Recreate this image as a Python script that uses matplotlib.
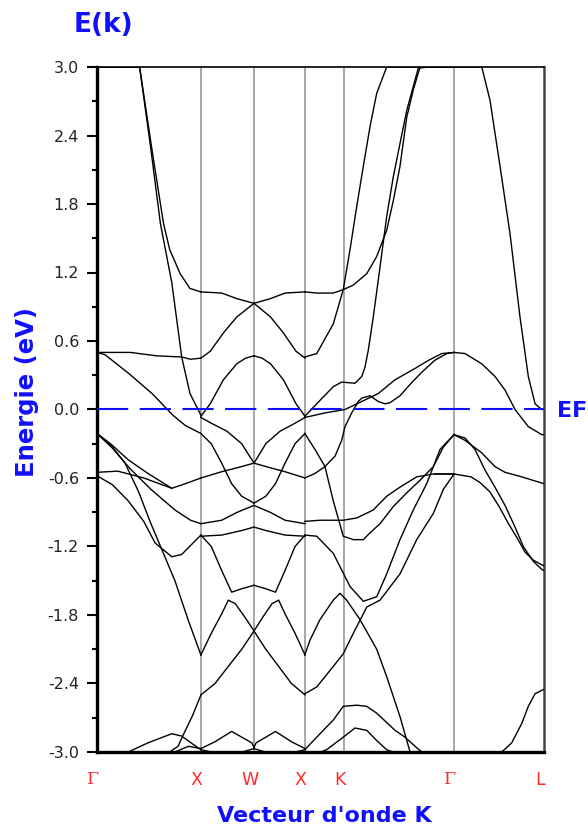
import numpy as np
import matplotlib
matplotlib.use("Agg")
from matplotlib import pyplot as plt
from matplotlib.ticker import AutoMinorLocator

# high symmetry points along the path
sym_k = [0.0, 1.0, 1.511, 2.002, 2.377, 3.436, 4.302]
sym_labels = ['Γ', 'X', 'W', 'X', 'K', 'Γ', 'L']
y_ticks = [-3.0, -2.4, -1.8, -1.2, -0.6, 0.0, 0.6, 1.2, 1.8, 2.4, 3.0]

# ---- Gamma -> X bands (k, E) ----
gx01_k = [0, 0.41, 0.52, 0.61, 0.72, 0.815, 0.895, 1.0]
gx01_e = [3.2, 3.0, 2.27, 1.63, 1.11, 0.46, 0.14, -0.05]
gx02_k = [0, 0.41, 0.53, 0.64, 0.70, 0.80, 0.895, 1.0]
gx02_e = [3.2, 3.0, 2.27, 1.63, 1.40, 1.19, 1.06, 1.03]
gx03_k = [0, 0.32, 0.575, 0.815, 0.90, 1.0]
gx03_e = [0.50, 0.50, 0.47, 0.46, 0.44, 0.45]
gx04_k = [0, 0.077, 0.30, 0.53, 0.73, 0.85, 1.0]
gx04_e = [0.50, 0.48, 0.32, 0.14, -0.05, -0.14, -0.21]
gx05_k = [0, 0.13, 0.30, 0.49, 0.72, 0.85, 1.0]
gx05_e = [-0.21, -0.30, -0.44, -0.56, -0.69, -0.65, -0.60]
gx06_k = [0, 0.15, 0.32, 0.52, 0.75, 0.90, 1.0]
gx06_e = [-0.21, -0.34, -0.52, -0.70, -0.88, -0.97, -1.0]
gx07_k = [0, 0.2, 0.45, 0.72]
gx07_e = [-0.55, -0.54, -0.60, -0.69]
gx08_k = [0, 0.15, 0.30, 0.45, 0.56, 0.72, 0.815, 1.0]
gx08_e = [-0.58, -0.66, -0.80, -0.98, -1.17, -1.29, -1.27, -1.10]
gx09_k = [0, 0.14, 0.27, 0.40, 0.51, 0.63, 0.75, 0.88, 1.0]
gx09_e = [-0.21, -0.32, -0.47, -0.72, -0.98, -1.24, -1.50, -1.85, -2.15]
gx10_k = [0.25, 0.30, 0.49, 0.72, 0.815, 0.92, 1.0]
gx10_e = [-3.1, -3.0, -2.92, -2.84, -2.86, -2.93, -2.98]
gx11_k = [0.70, 0.78, 0.83, 0.92, 1.0]
gx11_e = [-3.1, -2.95, -2.85, -2.68, -2.50]
gx12_k = [0.75, 0.88, 1.0]
gx12_e = [-3.0, -2.95, -2.97]

# ---- X -> W half bands (mirrored onto W -> X) ----
xw01_k = [1.0, 1.2, 1.35, 1.511]
xw01_e = [1.03, 1.02, 0.97, 0.93]
xw02_k = [1.0, 1.09, 1.216, 1.345, 1.511]
xw02_e = [0.45, 0.51, 0.67, 0.81, 0.93]
xw03_k = [1.0, 1.09, 1.216, 1.345, 1.43, 1.511]
xw03_e = [-0.06, 0.05, 0.26, 0.40, 0.45, 0.47]
xw04_k = [1.0, 1.10, 1.25, 1.393, 1.511]
xw04_e = [-0.07, -0.12, -0.19, -0.30, -0.47]
xw05_k = [1.0, 1.10, 1.20, 1.296, 1.393, 1.511]
xw05_e = [-0.21, -0.30, -0.47, -0.65, -0.76, -0.82]
xw06_k = [1.0, 1.20, 1.35, 1.511]
xw06_e = [-0.60, -0.545, -0.51, -0.47]
xw07_k = [1.0, 1.20, 1.35, 1.511]
xw07_e = [-1.0, -0.97, -0.90, -0.84]
xw08_k = [1.0, 1.20, 1.393, 1.511]
xw08_e = [-1.11, -1.10, -1.06, -1.03]
xw09_k = [1.0, 1.10, 1.20, 1.296, 1.393, 1.511]
xw09_e = [-1.10, -1.20, -1.41, -1.60, -1.57, -1.54]
xw10_k = [1.0, 1.10, 1.20, 1.264, 1.33, 1.424, 1.511]
xw10_e = [-2.15, -1.96, -1.79, -1.67, -1.70, -1.82, -1.94]
xw11_k = [1.0, 1.136, 1.264, 1.393, 1.511]
xw11_e = [-2.50, -2.40, -2.25, -2.10, -1.94]
xw12_k = [1.0, 1.136, 1.296, 1.393, 1.49, 1.511]
xw12_e = [-2.97, -2.91, -2.82, -2.87, -2.92, -2.96]
xw13_k = [1.0, 1.1, 1.40, 1.511]
xw13_e = [-2.98, -3.05, -3.05, -2.97]

# ---- X -> K -> Gamma -> L bands ----
xk01_k = [2.0, 2.115, 2.274, 2.37, 2.467, 2.596, 2.692, 2.788, 2.852, 2.916, 2.981, 3.044, 3.109, 3.2, 3.436]
xk01_e = [1.03, 1.02, 1.02, 1.05, 1.09, 1.19, 1.34, 1.57, 1.83, 2.13, 2.56, 2.80, 3.0, 3.3, 3.6]
xk02_k = [2.0, 2.115, 2.274, 2.37, 2.435, 2.50, 2.563, 2.628, 2.692, 2.788, 2.9, 3.436]
xk02_e = [0.46, 0.49, 0.75, 1.05, 1.40, 1.78, 2.13, 2.48, 2.77, 3.0, 3.3, 4.0]
xk03_k = [2.0, 2.146, 2.274, 2.355, 2.483, 2.548, 2.579, 2.611, 2.659, 2.724, 2.788, 2.852, 2.916, 2.981, 3.044, 3.092, 3.2, 3.436]
xk03_e = [-0.06, 0.08, 0.20, 0.24, 0.23, 0.29, 0.37, 0.52, 0.81, 1.25, 1.69, 2.04, 2.33, 2.62, 2.83, 2.99, 3.3, 3.6]
xk04_k = [2.0, 2.194, 2.387, 2.548, 2.707, 2.868, 3.061, 3.189, 3.318, 3.436]
xk04_e = [-0.07, -0.03, 0.0, 0.07, 0.14, 0.26, 0.36, 0.43, 0.49, 0.50]
xk05_k = [2.0, 2.098, 2.194, 2.29, 2.355, 2.387, 2.451, 2.515, 2.548, 2.628, 2.707, 2.772, 2.82, 2.916, 3.013, 3.13, 3.25, 3.366, 3.436]
xk05_e = [-0.60, -0.56, -0.50, -0.41, -0.27, -0.15, -0.03, 0.07, 0.10, 0.12, 0.07, 0.05, 0.06, 0.12, 0.22, 0.33, 0.43, 0.49, 0.50]
xk06_k = [2.0, 2.146, 2.274, 2.37, 2.50, 2.659, 2.788, 2.916, 3.077, 3.237, 3.436]
xk06_e = [-0.98, -0.97, -0.97, -0.97, -0.95, -0.88, -0.76, -0.68, -0.59, -0.565, -0.565]
xk07_k = [2.0, 2.098, 2.194, 2.274, 2.37, 2.467, 2.563, 2.628, 2.724, 2.852, 2.981, 3.109, 3.237, 3.333, 3.436]
xk07_e = [-0.21, -0.35, -0.50, -0.80, -1.11, -1.14, -1.14, -1.08, -1.0, -0.85, -0.73, -0.62, -0.50, -0.33, -0.22]
xk08_k = [2.0, 2.115, 2.274, 2.435, 2.563, 2.692, 2.788, 2.916, 3.044, 3.173, 3.301, 3.436]
xk08_e = [-1.10, -1.11, -1.26, -1.55, -1.68, -1.64, -1.44, -1.14, -0.88, -0.65, -0.35, -0.22]
xk09_k = [2.0, 2.05, 2.146, 2.274, 2.339, 2.403, 2.531, 2.692, 2.788, 2.916, 3.013]
xk09_e = [-2.15, -2.02, -1.84, -1.67, -1.61, -1.67, -1.84, -2.10, -2.34, -2.69, -3.01]
xk10_k = [2.0, 2.115, 2.274, 2.37, 2.467, 2.563, 2.596, 2.724, 2.916, 3.077, 3.237, 3.333, 3.436]
xk10_e = [-2.49, -2.43, -2.25, -2.14, -1.96, -1.79, -1.73, -1.67, -1.44, -1.14, -0.91, -0.70, -0.565]
xk11_k = [2.0, 2.146, 2.274, 2.37, 2.50, 2.596, 2.692, 2.868, 2.964, 3.061, 3.125]
xk11_e = [-2.98, -2.84, -2.72, -2.60, -2.59, -2.60, -2.66, -2.81, -2.87, -2.95, -3.0]
xk12_k = [2.15, 2.21, 2.37, 2.483, 2.596, 2.692, 2.788, 2.85]
xk12_e = [-3.05, -2.98, -2.87, -2.79, -2.81, -2.90, -2.98, -3.05]

gl01_k = [3.436, 3.542, 3.703, 3.83, 3.927, 4.023, 4.151, 4.28, 4.302]
gl01_e = [0.50, 0.49, 0.40, 0.29, 0.17, 0.0, -0.15, -0.22, -0.22]
gl02_k = [3.436, 3.60, 3.703, 3.782, 3.879, 3.975, 4.071, 4.151, 4.216, 4.28, 4.302]
gl02_e = [4.2, 3.4, 3.0, 2.71, 2.13, 1.54, 0.81, 0.29, 0.05, 0.0, 0.0]
gl03_k = [3.436, 3.542, 3.703, 3.83, 3.927, 4.088, 4.302]
gl03_e = [-0.22, -0.27, -0.38, -0.50, -0.55, -0.59, -0.65]
gl04_k = [3.436, 3.542, 3.638, 3.734, 3.83, 3.927, 4.023, 4.103, 4.199, 4.28, 4.302]
gl04_e = [-0.22, -0.25, -0.35, -0.53, -0.68, -0.84, -1.03, -1.20, -1.33, -1.40, -1.41]
gl05_k = [3.25, 3.436, 3.60, 3.686, 3.78, 3.87, 3.96, 4.04, 4.12, 4.20, 4.28, 4.302]
gl05_e = [-0.565, -0.565, -0.59, -0.64, -0.72, -0.85, -1.0, -1.12, -1.25, -1.32, -1.36, -1.37]
gl06_k = [3.879, 3.895, 3.991, 4.088, 4.151, 4.216, 4.28, 4.302]
gl06_e = [-3.05, -3.0, -2.92, -2.75, -2.60, -2.49, -2.46, -2.45]

gx_bands = [(gx01_k, gx01_e), (gx02_k, gx02_e), (gx03_k, gx03_e), (gx04_k, gx04_e),
            (gx05_k, gx05_e), (gx06_k, gx06_e), (gx07_k, gx07_e), (gx08_k, gx08_e),
            (gx09_k, gx09_e), (gx10_k, gx10_e), (gx11_k, gx11_e), (gx12_k, gx12_e)]
xw_bands = [(xw01_k, xw01_e), (xw02_k, xw02_e), (xw03_k, xw03_e), (xw04_k, xw04_e),
            (xw05_k, xw05_e), (xw06_k, xw06_e), (xw07_k, xw07_e), (xw08_k, xw08_e),
            (xw09_k, xw09_e), (xw10_k, xw10_e), (xw11_k, xw11_e), (xw12_k, xw12_e),
            (xw13_k, xw13_e)]
xl_bands = [(xk01_k, xk01_e), (xk02_k, xk02_e), (xk03_k, xk03_e), (xk04_k, xk04_e),
            (xk05_k, xk05_e), (xk06_k, xk06_e), (xk07_k, xk07_e), (xk08_k, xk08_e),
            (xk09_k, xk09_e), (xk10_k, xk10_e), (xk11_k, xk11_e), (xk12_k, xk12_e),
            (gl01_k, gl01_e), (gl02_k, gl02_e), (gl03_k, gl03_e), (gl04_k, gl04_e),
            (gl05_k, gl05_e), (gl06_k, gl06_e)]

BLUE = '#1010ff'
RED = '#ff2a2a'


def mirror_w(k):
    # W -> X is the mirror image of X -> W
    kx1, kw, kx2 = sym_k[1], sym_k[2], sym_k[3]
    k = np.asarray(k)
    return kw + (kw - k) * (kx2 - kw) / (kw - kx1)


def draw_band(ax, k, e):
    e = np.clip(np.asarray(e), -3.0, 3.0)
    ax.plot(k, e, color='black', lw=1.0, solid_joinstyle='round', zorder=3)


def main():
    plt.rcParams['font.family'] = ['DejaVu Sans']
    fig = plt.figure(figsize=(5.88, 8.34), dpi=100)
    ax = fig.add_axes([97 / 588, 1 - 752 / 834, 447 / 588, 685 / 834])

    for k in sym_k[1:-1]:
        ax.axvline(k, color='#a0a0a0', lw=1.3, zorder=1)

    for k, e in gx_bands:
        draw_band(ax, k, e)
    for k, e in xw_bands:
        draw_band(ax, k, e)
        draw_band(ax, mirror_w(k), e)
    for k, e in xl_bands:
        draw_band(ax, k, e)

    ax.axhline(0.0, color=BLUE, lw=1.5, linestyle=(0, (15, 5.5)), zorder=4)

    ax.set_xlim(sym_k[0], sym_k[-1])
    ax.set_ylim(-3.0, 3.0)
    ax.set_xticks([])
    ax.set_yticks(y_ticks)
    ax.set_yticklabels(['%.1f' % v for v in y_ticks], color='#222222', fontsize=11.5)
    ax.yaxis.set_minor_locator(AutoMinorLocator(2))
    ax.tick_params(axis='y', which='major', length=7, width=1.5, pad=6)
    ax.tick_params(axis='y', which='minor', length=3.5, width=1.5)

    ax.spines['left'].set_linewidth(2.4)
    ax.spines['bottom'].set_linewidth(2.4)
    ax.spines['top'].set_linewidth(1.2)
    ax.spines['right'].set_linewidth(1.8)
    ax.spines['right'].set_color('#444444')

    for k, lab in zip(sym_k, sym_labels):
        fam = 'DejaVu Serif' if lab == 'Γ' else 'DejaVu Sans'
        ax.annotate(lab, xy=(k, 0), xycoords=('data', 'axes fraction'),
                    xytext=(-3, -20), textcoords='offset points',
                    ha='center', va='center', color=RED, fontsize=12.5,
                    family=fam)

    fig.text(103 / 588, 1 - 25 / 834, 'E(k)', color=BLUE, fontsize=19,
             fontweight='bold', ha='center', va='center')
    fig.text(27 / 588, 1 - 392 / 834, 'Energie (eV)', color=BLUE, fontsize=17.5,
             fontweight='bold', rotation=90, ha='center', va='center')
    fig.text(324 / 588, 1 - 816 / 834, "Vecteur d'onde K", color=BLUE, fontsize=16,
             fontweight='bold', ha='center', va='center')
    fig.text(557 / 588, 1 - 411 / 834, 'EF', color=BLUE, fontsize=16,
             fontweight='bold', ha='left', va='center')

    fig.savefig('out.png', dpi=100, facecolor='white')


if __name__ == '__main__':
    main()
